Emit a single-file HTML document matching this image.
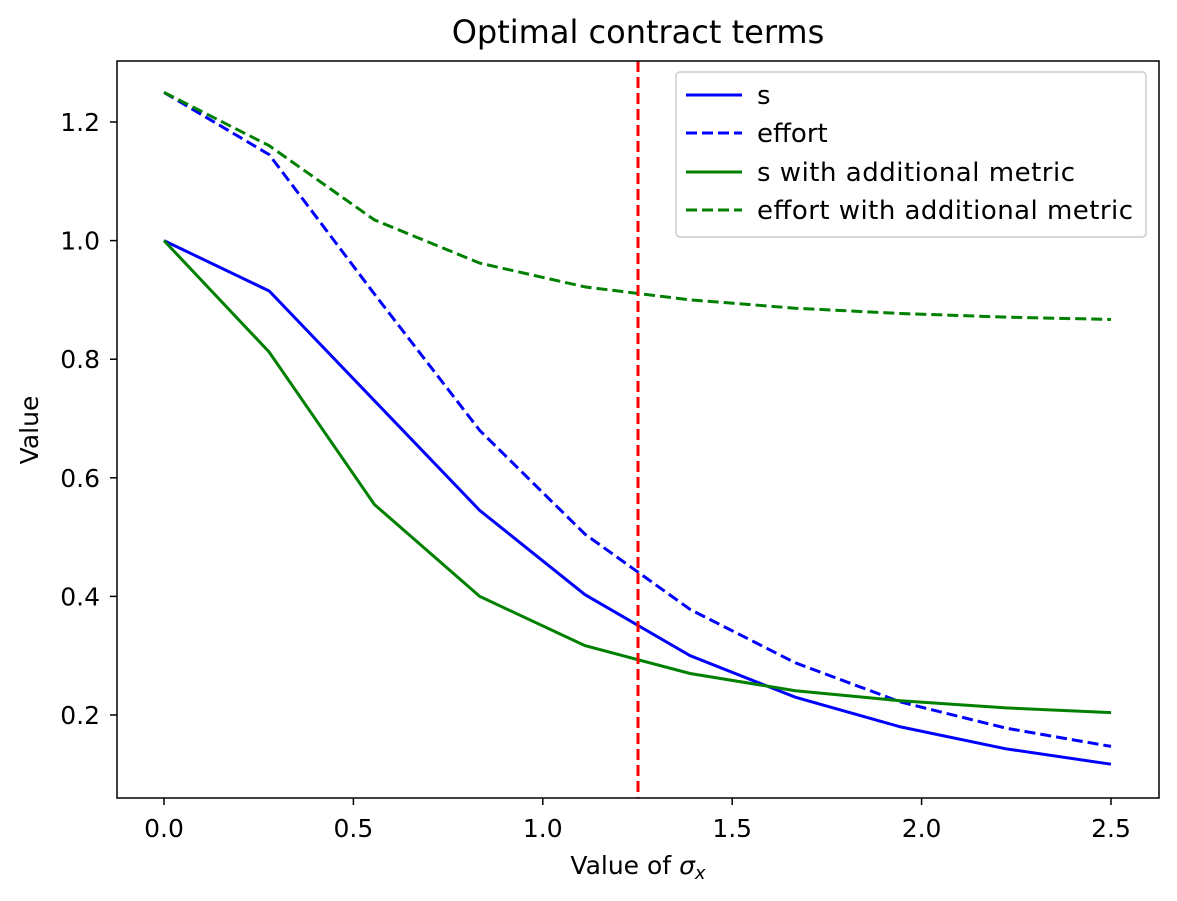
<!DOCTYPE html>
<html><head><meta charset="utf-8"><style>
body{margin:0;background:#fff}
svg{display:block;font-family:"DejaVu Sans","Liberation Sans",sans-serif}
</style></head><body>
<svg width="1177" height="901" viewBox="0 0 1177 901" xmlns="http://www.w3.org/2000/svg">
<rect width="1177" height="901" fill="#fff"/>
<text x="638" y="43" font-size="32" text-anchor="middle">Optimal contract terms</text>
<g fill="none" stroke-width="3">
<polyline stroke="#0000ff" points="164,240.6 269.2,291 374.4,400.7 479.7,510.4 584.9,594.6 690.1,655.7 795.3,697.2 900.6,726.9 1005.8,748.8 1111,764.2"/>
<polyline stroke="#0000ff" stroke-dasharray="11,5" points="164,92.4 269.2,154.6 374.4,294 479.7,430.4 584.9,534.1 690.1,609.4 795.3,662.8 900.6,702 1005.8,728.1 1111,746.4"/>
<polyline stroke="#008000" points="164,240.6 269.2,352.1 374.4,504.5 479.7,596.4 584.9,645.6 690.1,673.5 795.3,690.7 900.6,700.8 1005.8,707.9 1111,712.6"/>
<polyline stroke="#008000" stroke-dasharray="11,5" points="164,92.4 269.2,145.7 374.4,219.9 479.7,263.1 584.9,286.9 690.1,299.9 795.3,308.2 900.6,313.5 1005.8,317.1 1111,319.5"/>
<line x1="638" y1="61" x2="638" y2="798" stroke="#ff0000" stroke-dasharray="11,5"/>
</g>
<rect x="117" y="61" width="1042" height="737" fill="none" stroke="#000" stroke-width="1.5"/>
<g stroke="#000" stroke-width="1.5">
<line x1="164" y1="798" x2="164" y2="805"/><line x1="353.4" y1="798" x2="353.4" y2="805"/><line x1="542.8" y1="798" x2="542.8" y2="805"/><line x1="732.2" y1="798" x2="732.2" y2="805"/><line x1="921.6" y1="798" x2="921.6" y2="805"/><line x1="1111" y1="798" x2="1111" y2="805"/>
<line x1="110" y1="715" x2="117" y2="715"/><line x1="110" y1="596.4" x2="117" y2="596.4"/><line x1="110" y1="477.8" x2="117" y2="477.8"/><line x1="110" y1="359.2" x2="117" y2="359.2"/><line x1="110" y1="240.6" x2="117" y2="240.6"/><line x1="110" y1="122" x2="117" y2="122"/>
</g>
<g font-size="25" text-anchor="middle">
<text x="164" y="837">0.0</text><text x="353.4" y="837">0.5</text><text x="542.8" y="837">1.0</text><text x="732.2" y="837">1.5</text><text x="921.6" y="837">2.0</text><text x="1111" y="837">2.5</text>
</g>
<g font-size="25" text-anchor="end">
<text x="100" y="724">0.2</text><text x="100" y="605.4">0.4</text><text x="100" y="486.8">0.6</text><text x="100" y="368.2">0.8</text><text x="100" y="249.6">1.0</text><text x="100" y="131">1.2</text>
</g>
<text x="638" y="874" font-size="25" text-anchor="middle">Value of <tspan font-style="italic">σ</tspan><tspan font-style="italic" font-size="18" dy="5">x</tspan></text>
<text transform="translate(38,430) rotate(-90)" font-size="25" text-anchor="middle">Value</text>
<rect x="676" y="72" width="470" height="165" rx="4" fill="#fff" stroke="#ccc" stroke-width="1.5"/>
<g stroke-width="3">
<line x1="686" y1="95" x2="742" y2="95" stroke="#0000ff"/>
<line x1="686" y1="133" x2="742" y2="133" stroke="#0000ff" stroke-dasharray="11,5"/>
<line x1="686" y1="172" x2="742" y2="172" stroke="#008000"/>
<line x1="686" y1="210" x2="742" y2="210" stroke="#008000" stroke-dasharray="11,5"/>
</g>
<g font-size="26" text-anchor="end">
<text x="1133" y="104" text-anchor="start" dx="-376">s</text>
</g>
<g font-size="26">
<text x="757" y="142">effort</text><text x="757" y="181" textLength="318">s with additional metric</text><text x="757" y="219" textLength="376">effort with additional metric</text>
</g>
</svg>
</body></html>
